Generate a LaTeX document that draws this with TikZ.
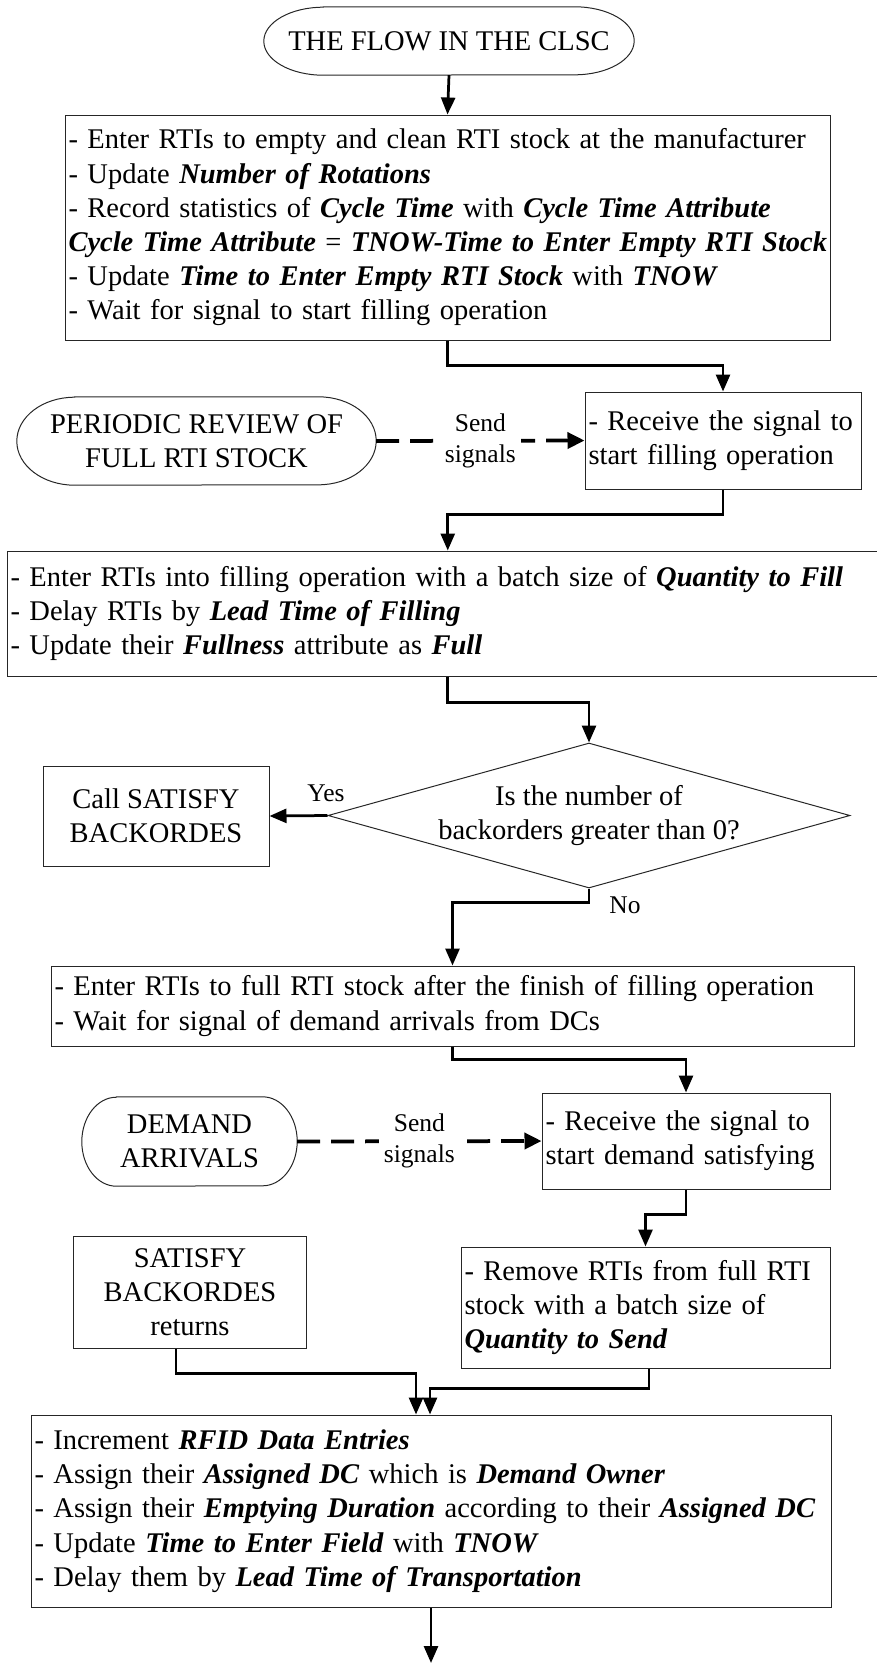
\documentclass[tikz,border=0pt]{standalone}
\usepackage{fontspec}
\setmainfont{Liberation Serif}
\usetikzlibrary{arrows.meta,shapes.geometric}
\newcommand{\bfit}[1]{\textbf{\textit{#1}}}
\newcommand{\termoutline}[3]{%
  \draw[termline] ([xshift=#2]#1.north west) -- ([xshift=-#2]#1.north east)
    arc[start angle=90, end angle=-90, x radius=#2, y radius=#3]
    -- ([xshift=#2]#1.south west)
    arc[start angle=270, end angle=90, x radius=#2, y radius=#3] -- cycle;}
\begin{document}
\begin{tikzpicture}[x=1pt,y=-1pt,
  every node/.style={font=\fontsize{28.5pt}{34.2pt}\selectfont, inner sep=0pt},
  box/.style={draw=black!85, line width=1pt, rectangle, inner xsep=3.5pt, align=left},
  cbox/.style={draw=black!85, line width=1pt, rectangle, align=center},
  termnode/.style={align=center},
  termline/.style={draw=black!85, line width=1pt},
  conn/.style={line width=2.75pt, -{Triangle[length=17pt,width=14pt]}},
  sig/.style={line width=3.75pt, dash pattern=on 23pt off 11pt, -{Triangle[length=17pt,width=16pt]}},
  lbl/.style={font=\fontsize{25.5pt}{31pt}\selectfont, align=center, fill=white, inner xsep=5pt},
  yn/.style={font=\fontsize{25.5pt}{31pt}\selectfont}
]
\useasboundingbox (0,0) rectangle (876,1663);

% terminator 1
\node[termnode, minimum width=370pt, minimum height=68pt] (t1) at (449,41) {THE FLOW IN THE CLSC};
\termoutline{t1}{59.5pt}{34pt}

% box 1
\node[box, text width=758pt, minimum height=225pt] (box1) at (447.5,227.5)
{\mbox{- Enter RTIs to empty and clean RTI stock at the manufacturer}\\
 \mbox{- Update \bfit{Number of Rotations}}\\
 \mbox{- Record statistics of \bfit{Cycle Time} with \bfit{Cycle Time Attribute}}\\
 \mbox{\bfit{Cycle Time Attribute} = \bfit{TNOW-Time to Enter Empty RTI Stock}}\\
 \mbox{- Update \bfit{Time to Enter Empty RTI Stock} with \bfit{TNOW}}\\
 \mbox{- Wait for signal to start filling operation}};

% periodic review terminator
\node[termnode, minimum width=359pt, minimum height=88pt] (t2) at (196.5,441) {PERIODIC REVIEW OF\\FULL RTI STOCK};
\termoutline{t2}{57.8pt}{44pt}

% receive 1
\node[box, text width=269pt, minimum height=97pt] (recv1) at (723,440.5)
{\mbox{- Receive the signal to}\\ \mbox{start filling operation}};

% filling box
\node[box, text width=874.5pt, minimum height=125pt, anchor=west] (fill) at (6.5,613.5)
{\mbox{- Enter RTIs into filling operation with a batch size of \bfit{Quantity to Fill}}\\
 \mbox{- Delay RTIs by \bfit{Lead Time of Filling}}\\
 \mbox{- Update their \bfit{Fullness} attribute as \bfit{Full}}};

% decision
\node[draw=black!85, line width=1pt, diamond, aspect=3.6, minimum width=522pt, minimum height=145pt, inner sep=-25pt, align=center] (dia) at (589,815.5)
{Is the number of\\backorders greater than 0?};

% call satisfy
\node[cbox, minimum width=226pt, minimum height=100pt] (call) at (156,816) {Call SATISFY\\BACKORDES};

% box 3
\node[box, text width=796pt, minimum height=80pt] (box3) at (452.5,1006)
{\mbox{- Enter RTIs to full RTI stock after the finish of filling operation}\\
 \mbox{- Wait for signal of demand arrivals from DCs}};

% demand arrivals terminator
\node[termnode, minimum width=215pt, minimum height=89pt] (t3) at (189.5,1141.5) {DEMAND\\ARRIVALS};
\termoutline{t3}{34.6pt}{44.5pt}

% receive 2
\node[box, text width=281pt, minimum height=96pt] (recv2) at (686,1141)
{\mbox{- Receive the signal to}\\ \mbox{start demand satisfying}};

% remove
\node[box, text width=362pt, minimum height=121pt] (remove) at (645.5,1307.5)
{\mbox{- Remove RTIs from full RTI}\\ \mbox{stock with a batch size of}\\ \mbox{\bfit{Quantity to Send}}};

% satisfy backordes returns
\node[cbox, minimum width=233pt, minimum height=112pt] (sat) at (190,1292) {SATISFY\\BACKORDES\\returns};

% final box
\node[box, text width=793pt, minimum height=192pt] (final) at (431,1511)
{\mbox{- Increment \bfit{RFID Data Entries}}\\
 \mbox{- Assign their \bfit{Assigned DC} which is \bfit{Demand Owner}}\\
 \mbox{- Assign their \bfit{Emptying Duration} according to their \bfit{Assigned DC}}\\
 \mbox{- Update \bfit{Time to Enter Field} with \bfit{TNOW}}\\
 \mbox{- Delay them by \bfit{Lead Time of Transportation}}};

\coordinate (exitpt) at (431,1663);

% labels
\node[yn] (yes) at (326,793) {Yes};
\node[yn] (no) at (625,905) {No};

% connectors
\draw[conn] (t1.south) -- (box1.north);
\draw[conn] (box1.south) -- ++(0,25) -| (recv1.north);
\draw[sig] (t2.east) -- node[lbl] (s1) {Send\\signals} (recv1.west);
\draw[conn] (recv1.south) -- ++(0,25) -| (fill.north);
\draw[conn] (fill.south) -- ++(0,26) -| (dia.north);
\draw[conn] (dia.west) -- (call.east);
\draw[conn] (dia.south) -- ++(0,14) -| (box3.north);
\draw[conn] (box3.south) -- ++(0,13) -| (recv2.north);
\draw[sig] (t3.east) -- node[lbl] (s2) {Send\\signals} (recv2.west);
\draw[conn] (recv2.south) -- ++(0,25) -| (remove.north);
\draw[conn] ([xshift=-14pt]sat.south) -- ++(0,25) -| ([xshift=-15pt]final.north);
\draw[conn] ([xshift=3.5pt]remove.south) -- ++(0,20) -| ([xshift=-1pt]final.north);
\draw[conn] (final.south) -- (exitpt);
\end{tikzpicture}
\end{document}
